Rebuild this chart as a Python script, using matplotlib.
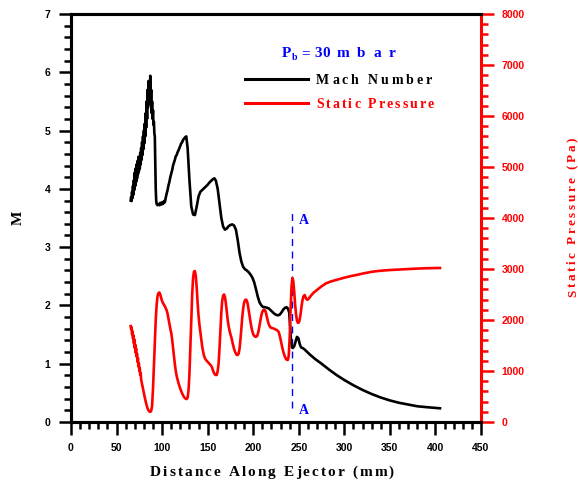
import matplotlib
matplotlib.use("Agg")
import matplotlib.pyplot as plt
from matplotlib.ticker import MultipleLocator
from matplotlib.lines import Line2D
from matplotlib.font_manager import FontProperties, findfont, get_font

# ---------------- data ----------------
mach_x = [65.5, 66.0, 66.5, 67.0, 67.5, 68.0, 68.5, 69.0, 69.5, 70.0, 70.5, 71.0, 71.5, 72.0, 72.5,
          73.0, 73.5, 74.0, 74.5, 75.0, 75.5, 76.0, 76.5, 77.0, 77.5, 78.0, 78.5, 79.0, 79.5, 80.0,
          80.5, 81.0, 81.5, 82.0, 82.5, 83.0, 83.5, 84.0, 84.5, 85.0, 85.5, 86.0, 86.5, 87.0, 87.5,
          88.0, 88.5, 89.0, 89.5, 90.0, 90.5, 91.0, 91.5, 92.0, 92.5, 93.0, 93.5, 94.0, 95.0, 96.0,
          97.0, 98.0, 99.0, 100.0, 101.0, 102.0, 103.0, 104.0, 105.0, 106.0, 107.0, 108.0, 109.0,
          110.0, 111.0, 112.0, 113.0, 114.0, 115.0, 116.0, 117.0, 118.0, 119.0, 120.0, 121.0, 122.0,
          123.0, 124.0, 125.0, 126.5, 128.0, 130.0, 132.0, 134.0, 136.0, 138.0, 140.0, 142.0, 144.0,
          146.0, 148.0, 150.0, 152.0, 154.0, 156.0, 157.5, 159.0, 161.0, 163.0, 165.0, 167.0, 169.0,
          171.0, 173.0, 175.0, 177.0, 179.0, 181.0, 183.0, 185.0, 187.0, 189.0, 191.0, 193.0, 195.0,
          197.0, 199.0, 201.0, 203.0, 205.0, 207.0, 209.0, 211.0, 213.0, 215.0, 217.0, 219.0, 221.0,
          223.0, 225.0, 227.0, 229.0, 231.0, 233.0, 235.0, 236.5, 238.0, 239.5, 240.5, 241.5, 242.5,
          243.5, 245.0, 246.5, 248.0, 249.5, 251.0, 252.5, 254.0, 256.0, 258.0, 262.0, 268.0, 275.0,
          284.0, 292.0, 300.0, 310.0, 320.0, 330.0, 340.0, 350.0, 360.0, 370.0, 380.0, 390.0, 405.0]
mach_y = [3.80, 3.86, 3.79, 3.95, 3.84, 4.05, 3.90, 4.15, 3.98, 4.28, 4.05, 4.35, 4.12, 4.42, 4.18,
          4.48, 4.25, 4.55, 4.30, 4.50, 4.35, 4.62, 4.42, 4.70, 4.50, 4.80, 4.58, 4.90, 4.68, 5.00,
          4.78, 5.12, 4.90, 5.30, 5.05, 5.50, 5.20, 5.70, 5.40, 5.85, 5.50, 5.80, 5.60, 5.94, 5.45,
          5.70, 5.30, 5.50, 5.20, 5.35, 5.10, 5.15, 4.95, 4.90, 4.40, 4.00, 3.80, 3.74, 3.72, 3.74,
          3.72, 3.76, 3.73, 3.77, 3.74, 3.79, 3.77, 3.85, 3.92, 3.98, 4.06, 4.12, 4.20,
          4.26, 4.32, 4.40, 4.45, 4.50, 4.56, 4.58, 4.63, 4.66, 4.70, 4.74, 4.78, 4.80,
          4.84, 4.86, 4.88, 4.90, 4.70, 4.15, 3.70, 3.56, 3.55, 3.70, 3.87, 3.95, 3.98,
          4.01, 4.04, 4.07, 4.11, 4.14, 4.17, 4.18, 4.14, 4.00, 3.75, 3.50, 3.35, 3.30,
          3.32, 3.36, 3.38, 3.39, 3.37, 3.30, 3.12, 2.90, 2.75, 2.66, 2.62, 2.60, 2.57,
          2.53, 2.48, 2.40, 2.28, 2.15, 2.05, 2.00, 1.97, 1.97, 1.96, 1.95, 1.92, 1.89,
          1.86, 1.84, 1.83, 1.84, 1.88, 1.93, 1.96, 1.97, 1.95, 1.88, 1.65, 1.40, 1.28,
          1.27, 1.30, 1.38, 1.46, 1.44, 1.34, 1.28, 1.27, 1.25, 1.22, 1.16, 1.08, 1.00,
          0.89, 0.80, 0.72, 0.63, 0.55, 0.48, 0.42, 0.37, 0.33, 0.30, 0.27, 0.255, 0.235]

pres_x = [65.5, 66.0, 66.5, 67.0, 67.5, 68.0, 68.5, 69.0, 69.5, 70.0, 70.5, 71.0, 71.5, 72.0, 72.5,
          73.0, 73.5, 74.0, 74.5, 75.0, 75.5, 76.0, 76.5, 77.0, 78.0, 79.0, 80.0, 81.0, 82.0, 83.0,
          84.0, 85.0, 86.0, 87.0, 88.0, 89.0, 90.0, 91.0, 92.0, 93.0, 94.0, 95.0, 96.0, 97.0, 98.0,
          99.0, 100.0, 101.0, 102.0, 103.0, 104.0, 105.0, 106.0, 107.0, 108.0, 109.0, 110.0, 111.0,
          112.0, 113.0, 114.0, 115.0, 116.0, 117.0, 118.0, 120.0, 122.0, 124.0, 126.0, 127.0, 128.0,
          129.0, 130.0, 131.0, 132.0, 133.0, 134.0, 135.0, 136.0, 137.0, 138.0, 139.0, 140.0, 141.0,
          142.0, 143.0, 144.0, 145.0, 146.0, 147.0, 148.0, 149.0, 150.0, 151.0, 152.0, 153.0, 154.0,
          155.0, 156.0, 157.0, 158.0, 159.0, 160.0, 161.0, 162.0, 163.0, 164.0, 165.0, 166.0, 167.0,
          168.0, 169.0, 170.0, 171.0, 172.0, 173.0, 174.0, 175.0, 176.0, 177.0, 178.0, 179.0, 180.0,
          181.0, 182.0, 183.0, 184.0, 185.0, 186.0, 187.0, 188.0, 189.0, 190.0, 191.0, 192.0, 193.0,
          194.0, 195.0, 196.0, 197.0, 198.0, 199.0, 200.0, 201.0, 202.0, 203.0, 204.0, 205.0, 206.0,
          207.0, 208.0, 209.0, 210.0, 211.0, 212.0, 213.0, 214.0, 215.0, 216.0, 217.0, 218.0, 219.0,
          220.0, 222.0, 224.0, 226.0, 227.0, 228.0, 229.0, 230.0, 231.0, 232.0, 233.0, 234.0, 235.0,
          236.0, 237.0, 238.0, 239.0, 240.0, 241.0, 242.0, 243.0, 244.0, 245.0, 246.0, 247.0, 248.0,
          249.0, 250.0, 251.0, 252.0, 253.0, 254.0, 255.0, 256.5, 258.0, 259.5, 261.0, 263.0, 266.0,
          270.0, 275.0, 280.0, 286.0, 292.0, 300.0, 307.0, 314.0, 320.0, 330.0, 339.0, 350.0, 360.0,
          370.0, 380.0, 390.0, 405.0]
pres_y = [1880, 1820, 1860, 1720, 1780, 1640, 1700, 1540, 1620, 1450, 1520, 1360, 1440, 1280, 1340,
          1180, 1250, 1090, 1150, 1000, 1060, 920, 960, 830, 740, 640, 560, 480, 400, 330,
          270, 230, 205, 200, 215, 320, 650, 1100, 1600, 2000, 2300, 2470, 2530, 2540, 2500,
          2430, 2370, 2330, 2300, 2270, 2230, 2190, 2120, 2020, 1920, 1830, 1750, 1620,
          1460, 1290, 1130, 1000, 900, 830, 760, 650, 560, 490, 455, 450, 480,
          620, 950, 1450, 2000, 2500, 2830, 2950, 2960, 2860, 2620, 2330, 2080, 1900,
          1760, 1620, 1480, 1380, 1300, 1250, 1220, 1200, 1180, 1160, 1140, 1120, 1100,
          1060, 1000, 960, 930, 920, 925, 1000, 1150, 1450, 1800, 2150, 2380, 2480,
          2500, 2450, 2320, 2150, 2000, 1880, 1790, 1720, 1660, 1580, 1500, 1430, 1380,
          1340, 1315, 1314, 1340, 1440, 1620, 1850, 2060, 2230, 2340, 2390, 2400, 2380,
          2310, 2200, 2080, 1960, 1860, 1780, 1720, 1690, 1675, 1670, 1680, 1720, 1800,
          1900, 2010, 2100, 2160, 2190, 2200, 2190, 2140, 2060, 1980, 1920, 1880, 1855,
          1845, 1835, 1820, 1800, 1790, 1760, 1700, 1620, 1530, 1450, 1380, 1320, 1270,
          1235, 1220, 1216, 1300, 1650, 2200, 2650, 2824, 2760, 2550, 2300, 2110, 1990,
          1945, 1950, 2010, 2120, 2260, 2380, 2460, 2490, 2420, 2395, 2420, 2470, 2530,
          2590, 2660, 2720, 2760, 2790, 2830, 2860, 2885, 2910, 2945, 2965, 2980, 2990,
          3000, 3008, 3015, 3020]

section_x = 242.6
section_ymin, section_ymax = 0.24, 3.67
x_label = "Distance Along Ejector (mm)"
y_label = "M"
y2_label = "Static Pressure (Pa)"
series_names = ["Mach Number", "Static Pressure"]
pb_symbol, pb_sub, pb_value, pb_unit = "P", "b", "= 30", "mbar"

# ---------------- styling ----------------
W, H = 578, 483
SERIF = ["Liberation Serif", "DejaVu Serif"]
SANS = ["Liberation Sans", "DejaVu Sans"]
BLUE, RED = "#0000ff", "#ff0000"

fig = plt.figure(figsize=(W/100, H/100), dpi=100)
ax = fig.add_axes([71/W, 1-422/H, 410/W, 408/H])
ax2 = ax.twinx()


def tracked(text, left, base, width, size, color, vertical=False):
    """Letter-spaced bold serif text placed glyph by glyph (pixel coords).
    For vertical text 'left' is the bottom end and 'base' the baseline x."""
    prop = FontProperties(family="Liberation Serif", weight="bold", size=size)
    font = get_font(findfont(prop))
    font.set_size(size, 72)
    adv = [font.load_char(ord(c)).linearHoriAdvance / 65536 * 100 / 72 for c in text]
    track = (width - sum(adv)) / max(len(text) - 1, 1)
    pos = 0.0
    for c, a in zip(text, adv):
        if vertical:
            y = left - pos
            fig.text(base / W, 1 - y / H, c, rotation=90, rotation_mode="anchor",
                     ha="left", va="baseline", fontproperties=prop, color=color)
        else:
            fig.text((left + pos) / W, 1 - base / H, c, ha="left", va="baseline",
                     fontproperties=prop, color=color)
        pos += a + track


lw = 1.9
l1, = ax.plot(mach_x, mach_y, color="black", lw=lw, zorder=3)
l2, = ax2.plot(pres_x, pres_y, color=RED, lw=lw, zorder=3)

ax.vlines(section_x, section_ymin, section_ymax, colors=BLUE, linestyles=(0, (5, 4)), lw=1.0)
ax.text(section_x + 8, section_ymax - 0.22, "A", color=BLUE, fontsize=10,
        fontweight="bold", family=SERIF, ha="left", va="center")
ax.text(section_x + 8, section_ymin - 0.04, "A", color=BLUE, fontsize=10,
        fontweight="bold", family=SERIF, ha="left", va="center")

ax.set_xlim(0, 450)
ax.set_ylim(0, 7)
ax2.set_ylim(0, 8000)

ax.xaxis.set_major_locator(MultipleLocator(50))
ax.xaxis.set_minor_locator(MultipleLocator(10))
ax.yaxis.set_major_locator(MultipleLocator(1))
ax.yaxis.set_minor_locator(MultipleLocator(0.2))
ax2.yaxis.set_major_locator(MultipleLocator(1000))
ax2.yaxis.set_minor_locator(MultipleLocator(200))

for a in (ax, ax2):
    for s in a.spines.values():
        s.set_linewidth(2.2)
ax2.spines["right"].set_color(RED)
ax.spines["right"].set_visible(False)

ax.tick_params(axis="both", which="major", direction="out", length=9, width=1.8,
               labelsize=7.5, pad=6)
ax.tick_params(axis="both", which="minor", direction="out", length=5, width=1.8)
ax.tick_params(axis="y", right=False)
ax2.tick_params(axis="y", which="major", direction="out", length=9, width=1.8,
                labelsize=7.5, pad=6, colors=RED)
ax2.tick_params(axis="y", which="minor", direction="out", length=5, width=1.8, colors=RED)

for lab in ax.get_xticklabels() + ax.get_yticklabels() + ax2.get_yticklabels():
    lab.set_fontfamily(SANS)
    lab.set_fontweight("bold")

# axis labels (letter-spaced like the reference)
tracked(x_label, 150, 476, 244, 11, "black")
tracked(y2_label, 297, 576, 159, 9.5, RED, vertical=True)
fig.text(18/W, 1 - 218/H, y_label, rotation=90, ha="center", va="center",
         fontsize=11, fontweight="bold", family=SERIF)

# P_b annotation
tracked(pb_symbol, 282, 57, 8, 11, BLUE)
tracked(pb_sub, 292, 60.5, 4, 7, BLUE)
tracked(pb_value, 301, 57, 29, 11, BLUE)
tracked(pb_unit, 337, 57, 58, 11, BLUE)

# legend: sample lines + letter-spaced labels
for (y, col) in ((79.3, "black"), (102.7, RED)):
    fig.add_artist(Line2D([245/W, 308/W], [1 - y/H, 1 - y/H], color=col, lw=2.2))
tracked(series_names[0], 316, 84.5, 116, 10, "black")
tracked(series_names[1], 316, 108, 118, 10, RED)

fig.savefig("out.png", dpi=100)
